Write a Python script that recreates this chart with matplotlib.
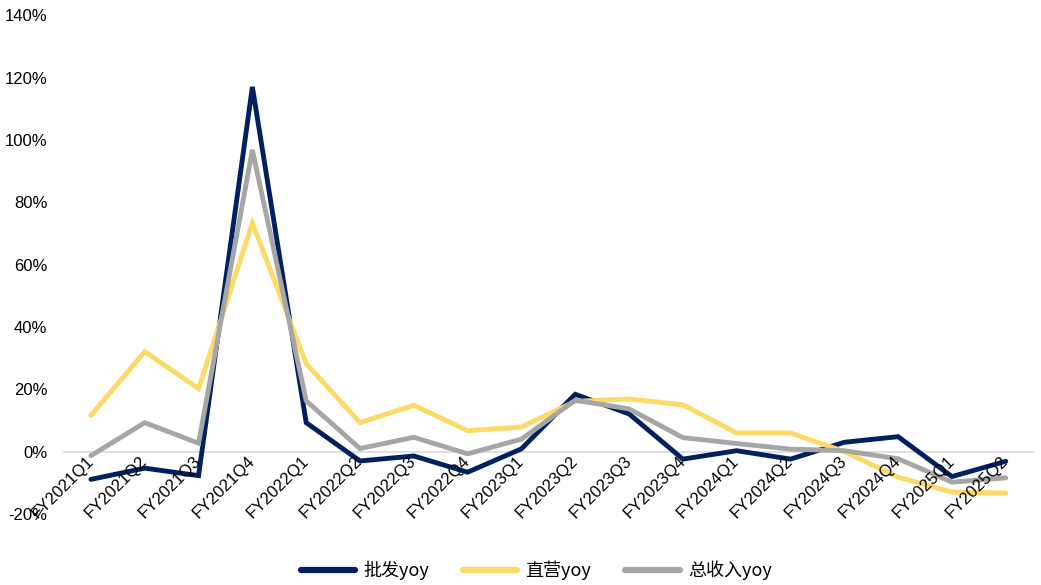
import matplotlib
matplotlib.use("Agg")
import matplotlib.pyplot as plt
from matplotlib.ticker import FuncFormatter

plt.rcParams['font.family'] = ['Liberation Sans', 'Noto Sans CJK SC', 'DejaVu Sans']

quarters = ["FY2021Q1", "FY2021Q2", "FY2021Q3", "FY2021Q4",
            "FY2022Q1", "FY2022Q2", "FY2022Q3", "FY2022Q4",
            "FY2023Q1", "FY2023Q2", "FY2023Q3", "FY2023Q4",
            "FY2024Q1", "FY2024Q2", "FY2024Q3", "FY2024Q4",
            "FY2025Q1", "FY2025Q2"]

wholesale_yoy = [-8.9, -5.3, -7.7, 117.0, 9.3, -3.0, -1.4, -6.6, 0.9,
                 18.4, 12.1, -2.4, 0.3, -2.4, 3.0, 4.8, -8.0, -3.1]
direct_yoy = [11.6, 32.1, 20.2, 73.4, 28.2, 9.3, 14.9, 6.7, 7.9,
              16.1, 16.9, 15.0, 6.0, 6.0, 0.0, -8.2, -13.0, -13.3]
total_yoy = [-1.3, 9.3, 2.7, 96.8, 16.3, 1.0, 4.6, -0.7, 4.0,
             16.5, 13.7, 4.5, 2.6, 0.8, 0.3, -2.3, -9.8, -8.4]

series_names = ["批发yoy", "直营yoy", "总收入yoy"]
series_colors = ["#002060", "#FFD966", "#A6A6A6"]

fig = plt.figure(figsize=(10.41, 5.85), dpi=100)
ax = fig.add_axes([0.0615, 0.1214, 0.9305, 0.8526])

x = list(range(len(quarters)))
for vals, name, color in zip([wholesale_yoy, direct_yoy, total_yoy],
                             series_names, series_colors):
    ax.plot(x, vals, color=color, lw=3.5, label=name,
            solid_joinstyle='miter', solid_capstyle='round')

ax.set_xlim(-0.5, len(quarters) - 0.5)
ax.set_ylim(-20, 140)
ax.set_yticks(range(-20, 141, 20))
ax.yaxis.set_major_formatter(FuncFormatter(lambda v, p: f"{v:.0f}%"))

# tick labels sit above the series lines; the zero baseline stays beneath
ax.set_axisbelow(False)
for side in ["left", "right", "top"]:
    ax.spines[side].set_visible(False)
ax.spines["bottom"].set_position(("data", 0))
ax.spines["bottom"].set_color("#D9D9D9")
ax.spines["bottom"].set_linewidth(1.2)
ax.spines["bottom"].set_zorder(0)

ax.set_xticks(x)
ax.set_xticklabels(quarters, rotation=45, ha="right", va="center",
                   rotation_mode="anchor", fontsize=12)
ax.tick_params(axis="x", length=0, pad=5)
ax.tick_params(axis="y", length=0, pad=12, labelsize=12)

leg = fig.legend(loc="lower center", bbox_to_anchor=(0.515, -0.02), ncol=3,
                 frameon=False, handlelength=3.0,
                 columnspacing=1.9, handletextpad=0.45,
                 prop={'family': ['Noto Sans CJK SC', 'DejaVu Sans'], 'size': 13})
for line in leg.get_lines():
    line.set_linewidth(4.5)

fig.savefig("out.png", dpi=100)
